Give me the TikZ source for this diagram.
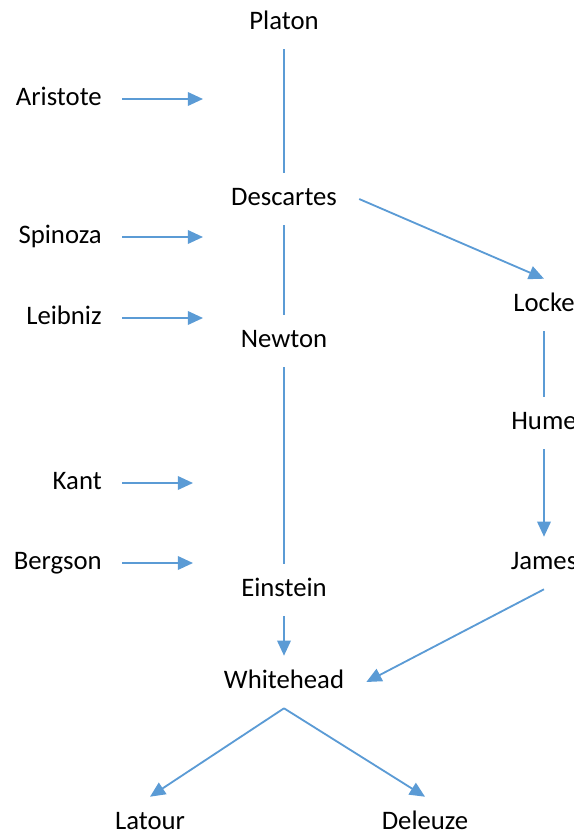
\documentclass[tikz,border=0pt]{standalone}
\usepackage{fontspec}
\setmainfont{Carlito}
\usetikzlibrary{arrows.meta,positioning,calc}
\definecolor{linkblue}{HTML}{5B9BD5}

\begin{document}
\begin{tikzpicture}[x=0.025cm,y=-0.025cm,>={Triangle[length=3.8mm,width=3.4mm]},font=\fontsize{19}{22}\selectfont,
  thinker/.style={minimum height=1.3cm,inner xsep=0.55cm,text height=0.96em,text depth=0em},
  source/.style={anchor=east,inner xsep=0.5cm,text height=0.96em,text depth=0em},
  wire/.style={draw=linkblue,line width=1.3pt}]
\useasboundingbox (0,0) rectangle (573,834);
% main line
\node[thinker] (platon) at (284,23) {Platon};
\node[thinker] (descartes) at (284,199) {Descartes};
\node[thinker] (newton) at (284,341) {Newton};
\node[thinker] (einstein) at (284,590) {Einstein};
\node[thinker] (whitehead) at (284,682) {Whitehead};
\node[thinker] (latour) at (150,823) {Latour};
\node[thinker] (deleuze) at (425,823) {Deleuze};
% empiricists
\node[thinker] (locke) at (544,305) {Locke};
\node[thinker] (hume) at (544,423) {Hume};
\node[thinker] (james) at (544,563) {James};
% side influences
\node[source] (aristote) at (122,99) {Aristote};
\node[source] (spinoza) at (122,237) {Spinoza};
\node[source] (leibniz) at (122,318) {Leibniz};
\node[source] (kant) at (122,483) {Kant};
\node[source] (bergson) at (122,563) {Bergson};
\coordinate (tA) at (203,99);
\coordinate (tS) at (203,237);
\coordinate (tL) at (203,318);
\coordinate (tK) at (193,483);
\coordinate (tB) at (193,563);
\draw[wire,->] (aristote.east) -- (tA);
\draw[wire,->] (spinoza.east) -- (tS);
\draw[wire,->] (leibniz.east) -- (tL);
\draw[wire,->] (kant.east) -- (tK);
\draw[wire,->] (bergson.east) -- (tB);
% connectors
\draw[wire] (platon.south) -- (descartes.north);
\draw[wire] (descartes.south) -- (newton.north);
\draw[wire] (newton.south) -- (einstein.north);
\draw[wire,->] (einstein.south) -- (whitehead.north);
\draw[wire,->] (descartes.east) -- (locke.north);
\draw[wire] (locke.south) -- (hume.north);
\draw[wire,->] (hume.south) -- (james.north);
\draw[wire,->] (james.south) -- (whitehead.east);
\draw[wire,->] (whitehead.south) -- (latour.north);
\draw[wire,->] (whitehead.south) -- (deleuze.north);
\end{tikzpicture}
\end{document}
